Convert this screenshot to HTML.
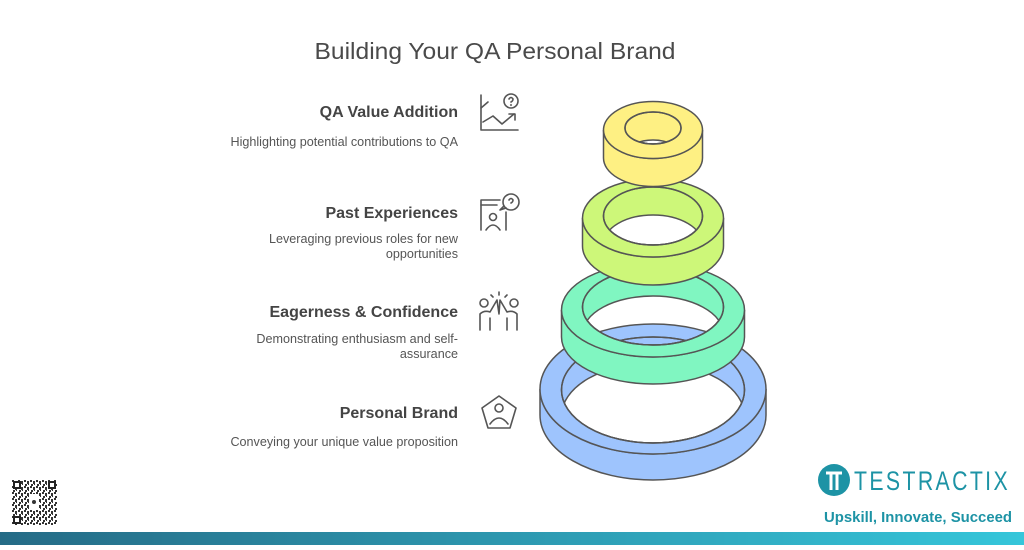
<!DOCTYPE html>
<html><head><meta charset="utf-8"><style>
html,body{margin:0;padding:0;background:#fff;}
svg{display:block;}
</style></head><body>
<svg width="1024" height="550" viewBox="0 0 1024 550" xmlns="http://www.w3.org/2000/svg" font-family="Liberation Sans, sans-serif">
<defs>
<linearGradient id="bar" x1="0" x2="1" y1="0" y2="0"><stop offset="0" stop-color="#256b86"/><stop offset="1" stop-color="#35c6da"/></linearGradient>
<clipPath id="c1"><ellipse cx="653" cy="390" rx="91.5" ry="53"/></clipPath>
<clipPath id="c2"><ellipse cx="653" cy="307" rx="70.5" ry="38"/></clipPath>
<clipPath id="c3"><ellipse cx="653" cy="216" rx="49.5" ry="29"/></clipPath>
<clipPath id="c4"><ellipse cx="653" cy="128" rx="28" ry="16"/></clipPath>
<pattern id="qr" width="6" height="6" patternUnits="userSpaceOnUse">
<rect width="6" height="6" fill="#fff"/><rect x="0" y="0" width="2" height="2" fill="#333"/><rect x="3" y="1" width="2" height="3" fill="#333"/><rect x="1" y="4" width="2" height="2" fill="#333"/><rect x="4" y="4" width="1" height="1" fill="#333"/>
</pattern>
</defs>
<text x="495" y="59" text-anchor="middle" font-size="23" fill="#4a4a4a" textLength="361" lengthAdjust="spacingAndGlyphs">Building Your QA Personal Brand</text>

<g fill="#444" text-anchor="end">
<text x="458" y="117" font-size="16" font-weight="bold">QA Value Addition</text>
<text x="458" y="146" font-size="12.6" fill="#555">Highlighting potential contributions to QA</text>
<text x="458" y="218" font-size="16" font-weight="bold">Past Experiences</text>
<text x="458" y="243" font-size="12.6" fill="#555">Leveraging previous roles for new</text>
<text x="458" y="258" font-size="12.6" fill="#555">opportunities</text>
<text x="458" y="317" font-size="16" font-weight="bold">Eagerness &amp; Confidence</text>
<text x="458" y="343" font-size="12.6" fill="#555">Demonstrating enthusiasm and self-</text>
<text x="458" y="358" font-size="12.6" fill="#555">assurance</text>
<text x="458" y="418" font-size="16" font-weight="bold">Personal Brand</text>
<text x="458" y="446" font-size="12.6" fill="#555">Conveying your unique value proposition</text>
</g>

<!-- icons -->
<g fill="none" stroke="#555" stroke-width="1.6" stroke-linecap="round" stroke-linejoin="round">
<path d="M481 95 V130 H518"/><path d="M481 108 L488 102"/><path d="M483 122 L493 116 L502 124 L514 114"/><path d="M509 114 H515 V120"/>
<circle cx="511" cy="101" r="7"/><path d="M509 99 q2-3 4 0 q0 2-2 3"/><circle cx="511" cy="105" r="0.3"/>
<path d="M481 230 V200 H500"/><path d="M481 205 H497"/><path d="M506 212 V230"/>
<circle cx="511" cy="202" r="8"/><path d="M504 206 L500 210 L506 208"/><path d="M509 200 q2-3 4 0 q0 2-2 3"/>
<circle cx="493" cy="217" r="3.5"/><path d="M486 230 q7-10 14 0"/>
<circle cx="484" cy="303" r="4"/><circle cx="514" cy="303" r="4"/><path d="M480 330 V314 q4-4 10-2 L497 300 L499 314 L500 300 L507 312 q6-2 10 2 V330"/><path d="M490 318 V330"/><path d="M507 318 V330"/><path d="M499 292 V295"/><path d="M491 295 L493 297"/><path d="M507 295 L505 297"/>
<path d="M499 396 L516 408 L510 428 L488 428 L482 408 Z"/><circle cx="499" cy="408" r="4"/><path d="M490 424 q9-12 18 0"/>
</g>

<!-- rings -->
<g stroke="#555" stroke-width="1.5">
<path d="M540 389 V415 A113 65 0 0 0 766 415 V389 A113 65 0 0 1 540 389 Z" fill="#9ec4fd"/>
<path d="M540 389 A113 65 0 1 1 766 389 A113 65 0 1 1 540 389 Z M561.5 390 A91.5 53 0 1 0 744.5 390 A91.5 53 0 1 0 561.5 390 Z" fill="#9ec4fd" fill-rule="evenodd"/>
<g clip-path="url(#c1)"><path d="M561.5 390 A91.5 53 0 1 0 744.5 390 A91.5 53 0 1 0 561.5 390 Z M561.5 416 A91.5 53 0 1 0 744.5 416 A91.5 53 0 1 0 561.5 416 Z" fill="#9ec4fd" fill-rule="evenodd"/></g>
<ellipse cx="653" cy="390" rx="91.5" ry="53" fill="none"/>
<path d="M561.5 310 V337 A91.5 47 0 0 0 744.5 337 V310 A91.5 47 0 0 1 561.5 310 Z" fill="#80f6c1"/>
<path d="M561.5 310 A91.5 47 0 1 1 744.5 310 A91.5 47 0 1 1 561.5 310 Z M582.5 307 A70.5 38 0 1 0 723.5 307 A70.5 38 0 1 0 582.5 307 Z" fill="#80f6c1" fill-rule="evenodd"/>
<g clip-path="url(#c2)"><path d="M582.5 307 A70.5 38 0 1 0 723.5 307 A70.5 38 0 1 0 582.5 307 Z M582.5 334 A70.5 38 0 1 0 723.5 334 A70.5 38 0 1 0 582.5 334 Z" fill="#80f6c1" fill-rule="evenodd"/></g>
<ellipse cx="653" cy="307" rx="70.5" ry="38" fill="none"/>
<path d="M582.5 218 V246 A70.5 39 0 0 0 723.5 246 V218 A70.5 39 0 0 1 582.5 218 Z" fill="#cdf779"/>
<path d="M582.5 218 A70.5 39 0 1 1 723.5 218 A70.5 39 0 1 1 582.5 218 Z M603.5 216 A49.5 29 0 1 0 702.5 216 A49.5 29 0 1 0 603.5 216 Z" fill="#cdf779" fill-rule="evenodd"/>
<g clip-path="url(#c3)"><path d="M603.5 216 A49.5 29 0 1 0 702.5 216 A49.5 29 0 1 0 603.5 216 Z M603.5 244 A49.5 29 0 1 0 702.5 244 A49.5 29 0 1 0 603.5 244 Z" fill="#cdf779" fill-rule="evenodd"/></g>
<ellipse cx="653" cy="216" rx="49.5" ry="29" fill="none"/>
<path d="M603.5 130 V158 A49.5 28.5 0 0 0 702.5 158 V130 A49.5 28.5 0 0 1 603.5 130 Z" fill="#fef083"/>
<path d="M603.5 130 A49.5 28.5 0 1 1 702.5 130 A49.5 28.5 0 1 1 603.5 130 Z M625 128 A28 16 0 1 0 681 128 A28 16 0 1 0 625 128 Z" fill="#fef083" fill-rule="evenodd"/>
<g clip-path="url(#c4)"><path d="M625 128 A28 16 0 1 0 681 128 A28 16 0 1 0 625 128 Z M625 156 A28 16 0 1 0 681 156 A28 16 0 1 0 625 156 Z" fill="#fef083" fill-rule="evenodd"/></g>
<ellipse cx="653" cy="128" rx="28" ry="16" fill="none"/>
</g>

<!-- QR -->
<rect x="12" y="480" width="45" height="45" fill="url(#qr)"/>
<g fill="#222">
<rect x="13" y="481" width="8" height="8"/><rect x="48" y="481" width="8" height="8"/><rect x="13" y="516" width="8" height="8"/>
</g>
<g fill="#fff"><rect x="15" y="483" width="4" height="4"/><rect x="50" y="483" width="4" height="4"/><rect x="15" y="518" width="4" height="4"/>
<rect x="29" y="494" width="10" height="16"/></g>
<circle cx="34" cy="502" r="2" fill="#333"/>

<!-- logo -->
<circle cx="834" cy="480" r="16" fill="#1d93a5"/>
<path d="M826 473 H842 M831 473 V490 M837 473 V490" stroke="#fff" stroke-width="3" fill="none"/>
<text x="854" y="490" font-size="27" fill="#1d93a5" letter-spacing="3" textLength="156" lengthAdjust="spacingAndGlyphs">TESTRACTIX</text>
<text x="824" y="522" font-size="15" font-weight="bold" fill="#1d93a5" textLength="188" lengthAdjust="spacingAndGlyphs">Upskill, Innovate, Succeed</text>

<rect x="0" y="532" width="1024" height="13" fill="url(#bar)"/>
</svg>
</body></html>
